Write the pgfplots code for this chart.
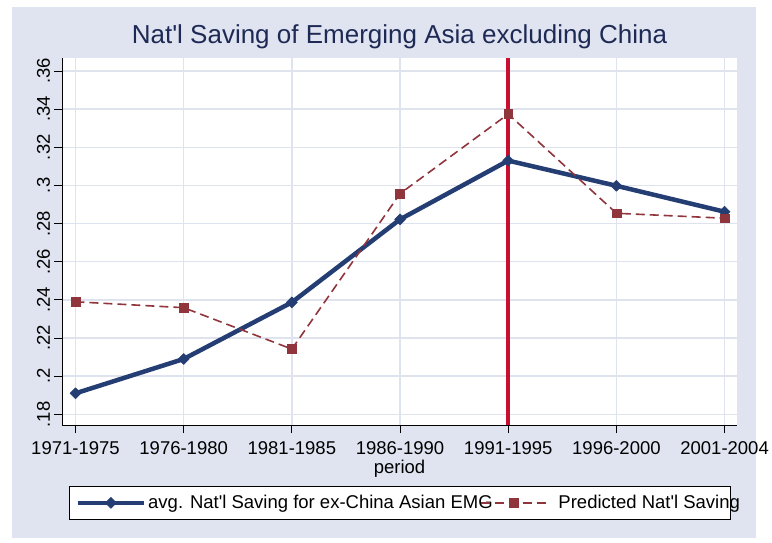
\documentclass[border=0pt]{standalone}
\usepackage{fontspec}
\setmainfont{Liberation Sans}
\usepackage{pgfplots}
\pgfplotsset{compat=1.18}
\definecolor{bgc}{RGB}{223,228,240}
\definecolor{gridc}{RGB}{222,227,238}
\definecolor{navyc}{RGB}{36,62,115}
\definecolor{maroonc}{RGB}{144,53,59}
\definecolor{vred}{RGB}{200,15,50}
\definecolor{titc}{RGB}{30,42,85}
\begin{document}
\begin{tikzpicture}[x=1pt,y=1pt]
\fill[white] (0,0) rectangle (772,542);
\fill[bgc] (12,4) rectangle (756,535);
\begin{axis}[
  at={(62.5pt,117pt)}, anchor=south west,
  scale only axis, width=674pt, height=367pt,
  xmin=-0.12, xmax=6.11, ymin=0.1744, ymax=0.3668,
  axis x line*=bottom, axis y line*=left,
  axis line style={black, line width=0.9pt},
  axis background/.style={fill=white},
  xtick={0,1,2,3,4,5,6},
  xticklabels={1971-1975,1976-1980,1981-1985,1986-1990,1991-1995,1996-2000,2001-2004},
  ytick={0.18,0.20,0.22,0.24,0.26,0.28,0.30,0.32,0.34,0.36},
  yticklabels={.18,.2,.22,.24,.26,.28,.3,.32,.34,.36},
  tick align=outside, major tick length=8pt,
  tick style={black, line width=0.8pt},
  grid=major, major grid style={gridc, line width=1.5pt},
  /pgf/number format/assume math mode=true,
  ticklabel style={font=\fontsize{18.5}{20}\selectfont},
  xticklabel style={anchor=base, inner sep=0pt, yshift=-21pt},
  yticklabel style={xshift=-4.5pt, rotate=90, anchor=base},
  xlabel={period},
  xlabel style={font=\fontsize{18.5}{20}\selectfont, inner sep=0pt, at={(axis description cs:0.5,0)}, anchor=base, yshift=-48pt},
  title={Nat\textquotesingle l Saving of Emerging Asia excluding China},
  title style={font=\fontsize{26}{28}\selectfont, text=titc, at={(axis description cs:0.5,1)}, anchor=base, yshift=8.7pt},
  legend columns=2,
  legend image code/.code={
    \draw[mark repeat=2, mark phase=2, #1] plot coordinates {(0pt,0pt) (33pt,0pt) (66pt,0pt)};
  },
  legend style={at={(axis description cs:0,0)}, anchor=north west, xshift=6.8pt, yshift=-61pt,
    draw=black, line width=0.8pt, fill=white, inner xsep=6pt, inner ysep=9pt,
    font=\fontsize{18.5}{20}\selectfont, nodes={inner sep=0pt},
    /tikz/column 1/.append style={column sep=2pt},
    /tikz/column 2/.append style={column sep=0pt},
    /tikz/column 3/.append style={column sep=11pt}},
]
\addplot[vred, line width=4pt, forget plot] coordinates {(4,0.1744) (4,0.3668)};
\addplot[navyc, line width=4.5pt, line join=round, mark=square*, mark size=3.9pt,
  mark options={rotate=45, solid, line width=0.5pt, fill=navyc}]
  coordinates {(0,0.1910) (1,0.2090) (2,0.2387) (3,0.2822) (4,0.3130) (5,0.2998) (6,0.2862)};
\addlegendentry{\makebox[331.7pt][l]{avg. Nat\textquotesingle l Saving for ex-China Asian EMG}}
\addplot[maroonc, line width=1.6pt, dash pattern=on 9pt off 5pt, mark=square*, mark size=4.4pt,
  mark options={solid, line width=0.5pt, fill=maroonc}]
  coordinates {(0,0.2390) (1,0.2359) (2,0.2142) (3,0.2957) (4,0.3374) (5,0.2854) (6,0.2828)};
\addlegendentry{\makebox[166.3pt][l]{Predicted Nat\textquotesingle l Saving}}
\end{axis}
\end{tikzpicture}
\end{document}
